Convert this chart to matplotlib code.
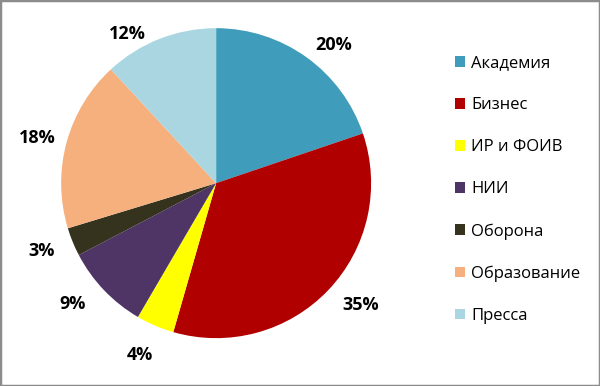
import numpy as np
import matplotlib.pyplot as plt
from matplotlib.patches import Patch, Rectangle

plt.rcParams['font.family'] = ['Open Sans', 'DejaVu Sans']

labels = ['Академия', 'Бизнес', 'ИР и ФОИВ', 'НИИ', 'Оборона', 'Образование', 'Пресса']
values = [20, 35, 4, 9, 3, 18, 12]
colors = ['#3f9dbb', '#b00000', '#ffff00', '#4e3566', '#35321e', '#f5b07e', '#a9d6e1']

# label placement tweaks (like Excel's best fit): angle shift in degrees, radius
lbl_shift = [-4.7, 3.4, -0.8, -3.7, -1.0, 1.1, 9.3]
lbl_rad = [1.17, 1.22, 1.21, 1.21, 1.21, 1.19, 1.12]

fig = plt.figure(figsize=(6, 3.86), dpi=100)
ax = fig.add_axes([0.1017, 0.124, 0.517, 0.803])
wedges, texts = ax.pie(values, colors=colors, startangle=90, counterclock=False)
ax.set_xlim(-1, 1)
ax.set_ylim(-1, 1)
ax.set_aspect('equal')

for w, v, d, r in zip(wedges, values, lbl_shift, lbl_rad):
    ang = np.deg2rad((w.theta1 + w.theta2) / 2 + d)
    ax.text(r * np.cos(ang), r * np.sin(ang), f'{v}%', ha='center', va='center',
            fontsize=13, fontweight='bold', color='black')

handles = [Patch(facecolor=c, label=l) for c, l in zip(colors, labels)]
fig.legend(handles=handles, loc='upper left', bbox_to_anchor=(0.733, 0.896),
           frameon=False, fontsize=12, handlelength=0.6, handleheight=0.6,
           handletextpad=0.4, labelspacing=1.56)

fig.patches.append(Rectangle((0, 0), 1, 1, transform=fig.transFigure, fill=False,
                             edgecolor='#8c8c8c', linewidth=2.5))

fig.savefig('out.png', dpi=100)
